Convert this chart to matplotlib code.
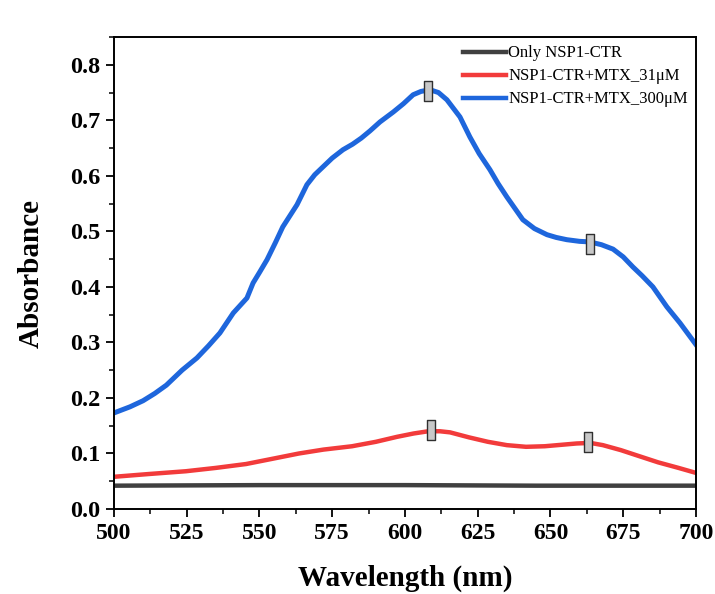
import matplotlib
matplotlib.use("Agg")
import matplotlib.pyplot as plt
from matplotlib.path import Path
from matplotlib.ticker import MultipleLocator

plt.rcParams['font.family'] = ['Liberation Serif', 'DejaVu Serif']

# ---- data ----
blue_x = [500, 505.5, 510, 514, 518, 523.4, 528.5, 532.5, 536.4, 541, 545.7, 547.8, 550, 552.6,
          555.5, 558, 562.9, 566.3, 569, 571.8, 575, 578.7, 582, 585, 588, 591.4, 596, 599.5,
          602.8, 605.5, 608.6, 611.5, 614.4, 618.9, 622.3, 625.5, 629.2, 632, 635, 640.5, 644.5,
          648.8, 652, 655.6, 660, 663.5, 667.5, 671.5, 675, 678.3, 681.5, 685.2, 690, 694.5, 700]
blue_y = [0.173, 0.184, 0.195, 0.208, 0.223, 0.25, 0.272, 0.294, 0.317, 0.353, 0.38, 0.407, 0.426,
          0.449, 0.480, 0.508, 0.548, 0.584, 0.602, 0.616, 0.632, 0.647, 0.657, 0.668, 0.681, 0.697,
          0.715, 0.730, 0.746, 0.752, 0.755, 0.750, 0.737, 0.706, 0.670, 0.640, 0.611, 0.586, 0.562,
          0.521, 0.505, 0.494, 0.489, 0.485, 0.482, 0.481, 0.476, 0.468, 0.454, 0.436, 0.420, 0.400,
          0.364, 0.335, 0.296]

red_x = [500, 512, 524.7, 535, 545.4, 555, 563.6, 572, 581.8, 590, 597.3, 603, 608, 612,
         615.5, 622, 628.5, 635, 641.6, 648, 654.6, 659, 663.7, 668, 674.2, 680, 687, 694, 700]
red_y = [0.058, 0.063, 0.068, 0.074, 0.081, 0.091, 0.100, 0.107, 0.113, 0.121, 0.130, 0.136, 0.140,
         0.140, 0.138, 0.129, 0.121, 0.115, 0.112, 0.113, 0.116, 0.118, 0.119, 0.115, 0.106, 0.096,
         0.084, 0.074, 0.065]

black_x = [500, 550, 600, 645, 700]
black_y = [0.042, 0.043, 0.043, 0.042, 0.042]

labels = ['Only NSP1-CTR', 'NSP1-CTR+MTX_31μM', 'NSP1-CTR+MTX_300μM']
colors = ['#404040', '#f23b3b', '#1e66dc']

# error-bar boxes (wavelength, absorbance)
box_x = [608, 663.5, 609, 663]
box_y = [0.752, 0.478, 0.143, 0.120]

xticks = [500, 525, 550, 575, 600, 625, 650, 675, 700]
yticks = [0.0, 0.1, 0.2, 0.3, 0.4, 0.5, 0.6, 0.7, 0.8]

# ---- figure ----
fig = plt.figure(figsize=(7.15, 5.94), dpi=100)
ax = fig.add_axes([0.1594, 0.1431, 0.8140, 0.7946])

ax.plot(black_x, black_y, color=colors[0], lw=3.2, label=labels[0], zorder=2)
ax.plot(red_x, red_y, color=colors[1], lw=3.2, label=labels[1], zorder=2)
ax.plot(blue_x, blue_y, color=colors[2], lw=3.6, label=labels[2], zorder=2)

rect = Path([(-0.2, -0.5), (0.2, -0.5), (0.2, 0.5), (-0.2, 0.5), (-0.2, -0.5)],
            [Path.MOVETO, Path.LINETO, Path.LINETO, Path.LINETO, Path.CLOSEPOLY])
ax.plot(box_x, box_y, ls='none', marker=rect, markersize=14.5,
        markerfacecolor='#c8c8c8', markeredgecolor='#303030', markeredgewidth=1.0, zorder=3)

ax.set_xlim(500, 700)
ax.set_ylim(0, 0.85)
ax.set_xticks(xticks)
ax.set_yticks(yticks)
ax.xaxis.set_minor_locator(MultipleLocator(12.5))
ax.yaxis.set_minor_locator(MultipleLocator(0.05))
ax.set_xticklabels([str(t) for t in xticks], fontsize=17, fontweight='bold')
ax.set_yticklabels([f'{t:.1f}' for t in yticks], fontsize=17.5, fontweight='bold')
ax.tick_params(which='major', direction='out', length=6, width=1.3, pad=4)
ax.tick_params(which='minor', direction='out', length=3.5, width=1.1)
for s in ax.spines.values():
    s.set_linewidth(1.4)

ax.set_xlabel('Wavelength (nm)', fontsize=21, fontweight='bold', labelpad=15)
ax.set_ylabel('Absorbance', fontsize=21, fontweight='bold', labelpad=18)

leg = ax.legend(loc='upper right', bbox_to_anchor=(1.0, 1.0), frameon=False, fontsize=12,
                handlelength=2.6, handletextpad=0.1, labelspacing=0.42, borderaxespad=0.1)
for h in leg.get_lines():
    h.set_linewidth(3.2)

fig.savefig('out.png', dpi=100)
